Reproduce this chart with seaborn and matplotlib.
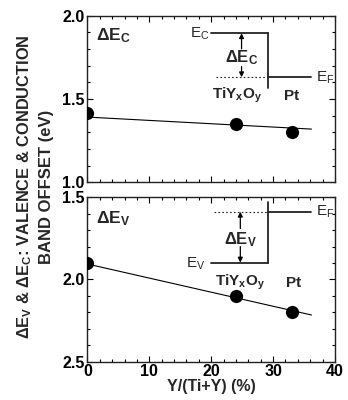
import numpy as np
import pandas as pd
import matplotlib
matplotlib.use("Agg")
import matplotlib.pyplot as plt
from matplotlib.ticker import MultipleLocator
import seaborn as sns

# Measured band offsets versus yttrium fraction
y_frac = [0, 24, 33]                 # Y/(Ti+Y) (%)
delta_ec = [1.414, 1.35, 1.30]       # conduction band offset (eV)
delta_ev = [1.898, 2.10, 2.20]       # valence band offset (eV)

# Guide lines through the data
guide_x = [0, 36.2]
ec_guide = [1.391, 1.319]
ev_guide = [1.906, 2.216]

x_ticks = [0, 10, 20, 30, 40]

sns.set_style("ticks")
plt.rcParams["font.family"] = ["Liberation Sans", "DejaVu Sans"]
plt.rcParams["mathtext.fontset"] = "custom"
plt.rcParams["mathtext.rm"] = "Liberation Sans"
plt.rcParams["mathtext.bf"] = "Liberation Sans:weight=bold"
plt.rcParams["mathtext.it"] = "Liberation Sans:italic"

fig = plt.figure(figsize=(3.48, 4.0), dpi=100)
ax_c = fig.add_axes([0.2514, 0.5443, 0.7112, 0.4168])
ax_v = fig.add_axes([0.2514, 0.0958, 0.7112, 0.4110])

df = pd.DataFrame({"x": y_frac, "ec": delta_ec, "ev": delta_ev})
guide = pd.DataFrame({"x": guide_x, "ec": ec_guide, "ev": ev_guide})

for ax, col in ((ax_c, "ec"), (ax_v, "ev")):
    sns.lineplot(data=guide, x="x", y=col, ax=ax, color="black", lw=0.8)
    sns.scatterplot(data=df, x="x", y=col, ax=ax, color="black", s=90,
                    edgecolor="black", linewidth=0, zorder=5)
    ax.set_xlim(0, 40)
    ax.set_xticks(x_ticks)
    ax.xaxis.set_minor_locator(MultipleLocator(2))
    ax.yaxis.set_major_locator(MultipleLocator(0.5))
    ax.yaxis.set_minor_locator(MultipleLocator(0.1))
    ax.tick_params(which="both", direction="in", top=True, right=True,
                   width=0.8, colors="black", labelsize=11.5, pad=2)
    ax.tick_params(which="major", length=4.5)
    ax.tick_params(which="minor", length=2.5)
    for sp in ax.spines.values():
        sp.set_visible(True)
        sp.set_linewidth(1.0)
        sp.set_color("#222222")
    ax.set_xlabel("")
    ax.set_ylabel("")

ax_c.set_ylim(1.0, 2.0)
ax_c.set_yticks([1.0, 1.5, 2.0])
ax_c.set_yticklabels(["1.0", "1.5", "2.0"], fontweight="bold")
ax_c.tick_params(axis="x", labelbottom=False)

ax_v.set_ylim(2.5, 1.5)
ax_v.set_yticks([1.5, 2.0, 2.5])
ax_v.set_yticklabels(["1.5", "2.0", "2.5"], fontweight="bold")
ax_v.set_xticklabels([str(t) for t in x_ticks], fontweight="bold")
ax_v.set_xlabel("Y/(Ti+Y) (%)", fontsize=11.5, fontweight="bold", labelpad=0)

bold = dict(fontweight="bold")

# Panel tags
ax_c.text(1.3, 1.88, r"ΔE$_\mathbf{C}$", fontsize=12.5, va="center", **bold)
ax_v.text(1.3, 1.63, r"ΔE$_\mathbf{V}$", fontsize=12.5, va="center", **bold)

lw_s = 1.3
arrow_kw = dict(arrowstyle="-|>", lw=0.9, color="black", mutation_scale=7,
                shrinkA=0, shrinkB=0)

# Band diagram: conduction band offset
ax_c.plot([19.9, 29.2], [1.894, 1.894], color="#222222", lw=lw_s)
ax_c.plot([29.2, 29.2], [1.894, 1.565], color="#222222", lw=lw_s)
ax_c.plot([29.2, 36.2], [1.63, 1.63], color="#222222", lw=lw_s)
ax_c.plot([20.8, 29.2], [1.63, 1.63], color="#222222", lw=0.8, ls=(0, (1.5, 2)))
ax_c.annotate("", xy=(24.9, 1.894), xytext=(24.9, 1.80), arrowprops=arrow_kw)
ax_c.annotate("", xy=(24.9, 1.63), xytext=(24.9, 1.694), arrowprops=arrow_kw)
ax_c.text(24.9, 1.747, r"ΔE$_\mathbf{C}$", fontsize=12,
          ha="center", va="center", **bold)
ax_c.text(19.8, 1.89, r"E$_\mathrm{C}$", fontsize=11, ha="right", va="center")
ax_c.text(37.0, 1.625, r"E$_\mathrm{F}$", fontsize=11, ha="left", va="center")
ax_c.text(24.1, 1.52, r"TiY$_\mathbf{x}$O$_\mathbf{y}$", fontsize=11,
          ha="center", va="center", **bold)
ax_c.text(33.0, 1.52, "Pt", fontsize=11, ha="center", va="center", **bold)

# Band diagram: valence band offset
ax_v.plot([19.9, 29.2], [1.897, 1.897], color="#222222", lw=lw_s)
ax_v.plot([29.2, 29.2], [1.897, 1.527], color="#222222", lw=lw_s)
ax_v.plot([29.2, 36.2], [1.588, 1.588], color="#222222", lw=lw_s)
ax_v.plot([20.4, 29.2], [1.588, 1.588], color="#222222", lw=0.8, ls=(0, (1.5, 2)))
ax_v.annotate("", xy=(24.7, 1.588), xytext=(24.7, 1.69), arrowprops=arrow_kw)
ax_v.annotate("", xy=(24.7, 1.897), xytext=(24.7, 1.80), arrowprops=arrow_kw)
ax_v.text(24.7, 1.755, r"ΔE$_\mathbf{V}$", fontsize=12,
          ha="center", va="center", **bold)
ax_v.text(19.0, 1.905, r"E$_\mathrm{V}$", fontsize=11, ha="right", va="center")
ax_v.text(37.0, 1.59, r"E$_\mathrm{F}$", fontsize=11, ha="left", va="center")
ax_v.text(24.6, 2.02, r"TiY$_\mathbf{x}$O$_\mathbf{y}$", fontsize=11,
          ha="center", va="center", **bold)
ax_v.text(33.3, 2.02, "Pt", fontsize=11, ha="center", va="center", **bold)

# Shared y-axis title
fig.text(0.070, 0.534,
         r"ΔE$_\mathbf{V}$ & ΔE$_\mathbf{C}$: VALENCE & CONDUCTION",
         rotation=90, fontsize=11.8, ha="center", va="center", **bold)
fig.text(0.135, 0.532, "BAND OFFSET (eV)", rotation=90, fontsize=12,
         ha="center", va="center", **bold)

fig.savefig("out.png", dpi=100)
